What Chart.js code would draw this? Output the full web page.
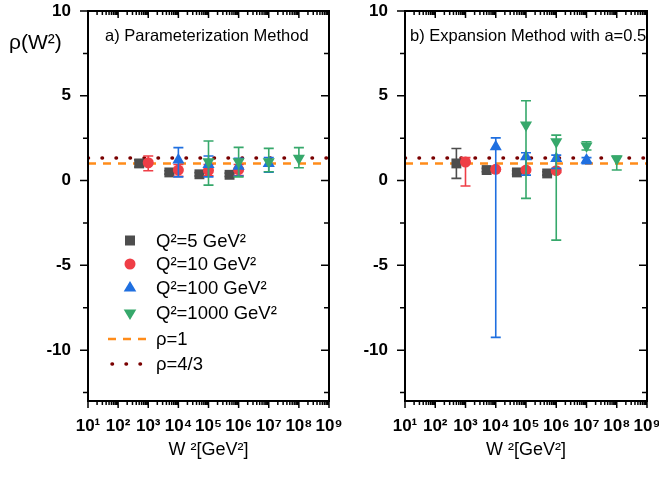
<!DOCTYPE html>
<html>
<head>
<meta charset="utf-8">
<script src="https://cdn.jsdelivr.net/npm/chart.js@4.4.1/dist/chart.umd.min.js"></script>
<style>
  html, body { margin: 0; padding: 0; background: #fff; }
  #wrap { position: relative; width: 659px; height: 478px; }
  #left { position: absolute; left: 0; top: 0; }
  #right { position: absolute; left: 345px; top: 0; }
</style>
</head>
<body>
<div id="wrap">
  <canvas id="left" width="345" height="478"></canvas>
  <canvas id="right" width="314" height="478"></canvas>
</div>
<script>
// ---- data ----
var seriesNames = ['Q²=5 GeV²', 'Q²=10 GeV²', 'Q²=100 GeV²', 'Q²=1000 GeV²'];
var lineNames = ['ρ=1', 'ρ=4/3'];
var xTickExp = [1, 2, 3, 4, 5, 6, 7, 8, 9];
var yTickVals = [-10, -5, 0, 5, 10];

var w2Q5 = [500, 5000, 50000, 500000];
var w2Q10 = [1e3, 1e4, 1e5, 1e6];
var w2Q100 = [1e4, 1e5, 1e6, 1e7];
var w2Q1000 = [1e5, 1e6, 1e7, 1e8];

// a) Parameterization Method
var rhoA_Q5 = [1.01, 0.48, 0.37, 0.34];
var loA_Q5 = [0.80, 0.38, 0.27, 0.24];
var hiA_Q5 = [1.22, 0.58, 0.47, 0.44];
var rhoA_Q10 = [1.05, 0.62, 0.60, 0.64];
var loA_Q10 = [0.58, 0.25, 0.28, 0.30];
var hiA_Q10 = [1.45, 0.95, 0.95, 0.95];
var rhoA_Q100 = [1.21, 0.95, 0.85, 1.00];
var loA_Q100 = [0.22, 0.22, 0.27, 0.50];
var hiA_Q100 = [1.94, 1.45, 1.31, 1.35];
var rhoA_Q1000 = [1.11, 1.11, 1.11, 1.31];
var loA_Q1000 = [-0.27, 0.22, 0.52, 0.76];
var hiA_Q1000 = [2.33, 1.96, 1.90, 1.94];

// b) Expansion Method with a=0.5
var rhoB_Q5 = [1.01, 0.62, 0.48, 0.42];
var loB_Q5 = [0.13, 0.52, 0.38, 0.32];
var hiB_Q5 = [1.89, 0.72, 0.58, 0.52];
var rhoB_Q10 = [1.09, 0.66, 0.62, 0.58];
var loB_Q10 = [-0.32, 0.56, 0.52, 0.48];
var hiB_Q10 = [1.35, 0.76, 0.72, 0.68];
var rhoB_Q100 = [1.99, 1.40, 1.30, 1.21];
var loB_Q100 = [-9.25, 0.32, 0.72, 1.00];
var hiB_Q100 = [2.52, 1.64, 1.50, 1.35];
var rhoB_Q1000 = [3.27, 2.29, 2.04, 1.27];
var loB_Q1000 = [-1.05, -3.51, 1.80, 0.62];
var hiB_Q1000 = [4.71, 2.68, 2.29, 1.45];

var lineX = [10, 1e9];
var rhoOne = [1, 1];
var rhoFourThirds = [4 / 3, 4 / 3];

// ---- styles ----
var FONT = "'Liberation Sans', Arial, sans-serif";
var colors = ['#4d4d4d', '#ef3e46', '#1f6fe0', '#36a86b'];
var styles = ['rect', 'circle', 'triangle', 'triangle'];
var radii = [7, 5.5, 7, 7];
var rotations = [0, 0, 0, 180];
var sup = ['⁰', '¹', '²', '³', '⁴', '⁵', '⁶', '⁷', '⁸', '⁹'];

function pts(xs, ys) {
  return xs.map(function (x, i) { return { x: x, y: ys[i] }; });
}

function pointSet(i, xs, ys, lo, hi) {
  return {
    label: seriesNames[i],
    data: pts(xs, ys),
    errLo: lo,
    errHi: hi,
    showLine: false,
    pointStyle: styles[i],
    pointRotation: rotations[i],
    pointRadius: radii[i],
    pointHoverRadius: radii[i],
    pointBackgroundColor: colors[i],
    pointBorderColor: colors[i],
    pointBorderWidth: 0,
    borderColor: colors[i],
    order: 4 - i
  };
}

function refLines() {
  return [{
    label: lineNames[0],
    data: pts(lineX, rhoOne),
    showLine: true,
    pointRadius: 0,
    borderColor: '#ff8c1a',
    borderWidth: 2.5,
    borderDash: [8, 7],
    order: 6
  }, {
    label: lineNames[1],
    data: pts(lineX, rhoFourThirds),
    showLine: true,
    pointRadius: 0,
    borderColor: '#7a0000',
    borderWidth: 3.5,
    borderDash: [0.5, 13.5],
    borderCapStyle: 'round',
    order: 5
  }];
}

// error bars, drawn just before each dataset's own points
var errorBarPlugin = {
  id: 'errorBars',
  beforeDatasetDraw: function (chart, args) {
    var ds = chart.data.datasets[args.index];
    if (!ds.errLo) return;
    var ctx = chart.ctx, a = chart.chartArea;
    var xs = chart.scales.x, ys = chart.scales.y;
    ctx.save();
    ctx.beginPath();
    ctx.rect(a.left, a.top, a.right - a.left, a.bottom - a.top);
    ctx.clip();
    ctx.strokeStyle = ds.borderColor;
    ctx.lineWidth = 1.6;
    ctx.beginPath();
    ds.data.forEach(function (p, i) {
      var px = xs.getPixelForValue(p.x);
      var y1 = ys.getPixelForValue(ds.errLo[i]);
      var y2 = ys.getPixelForValue(ds.errHi[i]);
      ctx.moveTo(px, y1); ctx.lineTo(px, y2);
      ctx.moveTo(px - 5, y1); ctx.lineTo(px + 5, y1);
      ctx.moveTo(px - 5, y2); ctx.lineTo(px + 5, y2);
    });
    ctx.stroke();
    ctx.restore();
  }
};

// box and tick marks on all four sides
var framePlugin = {
  id: 'frame',
  afterDraw: function (chart) {
    var ctx = chart.ctx, a = chart.chartArea;
    var xs = chart.scales.x, ys = chart.scales.y;
    ctx.save();
    ctx.strokeStyle = '#000';
    ctx.lineWidth = 1.5;
    ctx.beginPath();
    for (var e = 1; e <= 9; e++) {
      for (var m = 1; m <= 9; m++) {
        if (e === 9 && m > 1) break;
        var px = xs.getPixelForValue(m * Math.pow(10, e));
        var len = m === 1 ? 7 : 4;
        ctx.moveTo(px, a.bottom); ctx.lineTo(px, a.bottom + len);
        ctx.moveTo(px, a.top); ctx.lineTo(px, a.top + len);
      }
    }
    for (var t = -12.5; t <= 10; t += 2.5) {
      var py = ys.getPixelForValue(t);
      var l = (t % 5 === 0) ? 8 : 5;
      ctx.moveTo(a.left - l, py); ctx.lineTo(a.left, py);
      ctx.moveTo(a.right, py); ctx.lineTo(a.right - l, py);
    }
    ctx.stroke();
    ctx.lineWidth = 2;
    ctx.strokeRect(a.left, a.top, a.right - a.left, a.bottom - a.top);
    ctx.restore();
  }
};

// free text: panel label, axis titles, legend
var textPlugin = {
  id: 'texts',
  afterDraw: function (chart, args, opts) {
    var ctx = chart.ctx, a = chart.chartArea;
    ctx.save();
    ctx.fillStyle = '#000';
    ctx.textBaseline = 'middle';
    ctx.textAlign = 'left';
    ctx.font = '16.5px ' + FONT;
    ctx.fillText(opts.panel, opts.panelX, 36);
    ctx.textAlign = 'center';
    ctx.font = '18px ' + FONT;
    ctx.fillText('W ²[GeV²]', (a.left + a.right) / 2, 450);
    if (opts.yTitle) {
      ctx.textAlign = 'left';
      ctx.font = '21px ' + FONT;
      ctx.fillText('ρ(W²)', 9, 43);
    }
    if (opts.legend) {
      var rows = [240.5, 264, 288, 313, 339, 364];
      var mx = 130;
      ctx.textAlign = 'left';
      ctx.font = '18.5px ' + FONT;
      for (var i = 0; i < 4; i++) {
        var y = rows[i];
        ctx.fillStyle = colors[i];
        ctx.beginPath();
        if (i === 0) {
          ctx.rect(mx - 5, y - 5, 10, 10);
        } else if (i === 1) {
          ctx.arc(mx, y, 5.5, 0, Math.PI * 2);
        } else if (i === 2) {
          ctx.moveTo(mx, y - 7); ctx.lineTo(mx + 6.3, y + 3.5); ctx.lineTo(mx - 6.3, y + 3.5);
        } else {
          ctx.moveTo(mx, y + 7); ctx.lineTo(mx + 6.3, y - 3.5); ctx.lineTo(mx - 6.3, y - 3.5);
        }
        ctx.closePath();
        ctx.fill();
        ctx.fillStyle = '#000';
        ctx.fillText(seriesNames[i], 156, y + 1);
      }
      ctx.lineWidth = 2.5;
      ctx.strokeStyle = '#ff8c1a';
      ctx.setLineDash([8, 7]);
      ctx.beginPath(); ctx.moveTo(108, rows[4]); ctx.lineTo(150, rows[4]); ctx.stroke();
      ctx.strokeStyle = '#7a0000';
      ctx.lineWidth = 3.5;
      ctx.lineCap = 'round';
      ctx.setLineDash([0.5, 13.5]);
      ctx.beginPath(); ctx.moveTo(112, rows[5]); ctx.lineTo(150, rows[5]); ctx.stroke();
      ctx.setLineDash([]);
      ctx.fillStyle = '#000';
      ctx.fillText(lineNames[0], 156, rows[4] + 1);
      ctx.fillText(lineNames[1], 156, rows[5] + 1);
    }
    ctx.restore();
  }
};

function makePanel(id, datasets, yWidth, padRight, textOpts) {
  return new Chart(document.getElementById(id), {
    type: 'scatter',
    data: { datasets: datasets },
    plugins: [errorBarPlugin, framePlugin, textPlugin],
    options: {
      responsive: false,
      animation: false,
      events: [],
      layout: { padding: { left: 0, right: padRight, top: 11, bottom: 0 } },
      plugins: {
        legend: { display: false },
        tooltip: { enabled: false },
        texts: textOpts
      },
      scales: {
        x: {
          type: 'logarithmic',
          min: 10,
          max: 1e9,
          grid: { display: false, drawTicks: false },
          border: { display: false },
          afterBuildTicks: function (s) {
            s.ticks = xTickExp.map(function (e) { return { value: Math.pow(10, e) }; });
          },
          afterFit: function (s) {
            s.height = 77;
            s.paddingLeft = 0;
            s.paddingRight = 0;
          },
          ticks: {
            autoSkip: false,
            maxRotation: 0,
            padding: 15,
            color: '#000',
            font: { family: FONT, size: 17, weight: 'bold' },
            callback: function (v) {
              return '10' + sup[Math.round(Math.log10(v))];
            }
          }
        },
        y: {
          type: 'linear',
          min: -13,
          max: 10,
          grid: { display: false, drawTicks: false },
          border: { display: false },
          afterBuildTicks: function (s) {
            s.ticks = yTickVals.map(function (v) { return { value: v }; });
          },
          afterFit: function (s) {
            s.width = yWidth;
            s.paddingTop = 0;
            s.paddingBottom = 0;
          },
          ticks: {
            padding: 17,
            color: '#000',
            font: { family: FONT, size: 17, weight: 'bold' }
          }
        }
      }
    }
  });
}

makePanel('left', [
  pointSet(0, w2Q5, rhoA_Q5, loA_Q5, hiA_Q5),
  pointSet(1, w2Q10, rhoA_Q10, loA_Q10, hiA_Q10),
  pointSet(2, w2Q100, rhoA_Q100, loA_Q100, hiA_Q100),
  pointSet(3, w2Q1000, rhoA_Q1000, loA_Q1000, hiA_Q1000)
].concat(refLines()), 88, 16, {
  panel: 'a) Parameterization Method', panelX: 105, yTitle: true, legend: true
});

makePanel('right', [
  pointSet(0, w2Q5, rhoB_Q5, loB_Q5, hiB_Q5),
  pointSet(1, w2Q10, rhoB_Q10, loB_Q10, hiB_Q10),
  pointSet(2, w2Q100, rhoB_Q100, loB_Q100, hiB_Q100),
  pointSet(3, w2Q1000, rhoB_Q1000, loB_Q1000, hiB_Q1000)
].concat(refLines()), 60, 12, {
  panel: 'b) Expansion Method with a=0.5', panelX: 65, yTitle: false, legend: false
});
</script>
</body>
</html>
